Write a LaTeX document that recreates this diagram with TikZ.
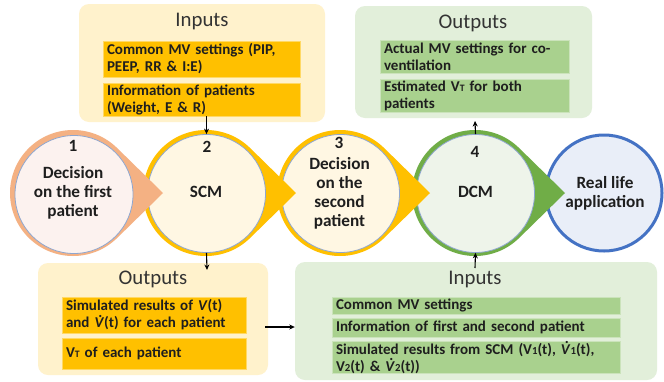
\documentclass[tikz,border=0pt]{standalone}
\usepackage{fontspec}
\setmainfont{Carlito}
\usetikzlibrary{arrows.meta,calc}
\definecolor{gold}{HTML}{FFC000}
\definecolor{cream}{HTML}{FFF2CC}
\definecolor{creamin}{HTML}{FFF7E3}
\definecolor{peach}{HTML}{F4B183}
\definecolor{pinkin}{HTML}{FCF2EF}
\definecolor{grn}{HTML}{70AD47}
\definecolor{grnlight}{HTML}{E2EFDA}
\definecolor{grnbox}{HTML}{A9D18E}
\definecolor{grnin}{HTML}{EEF4EA}
\definecolor{blu}{HTML}{4472C4}
\definecolor{bluin}{HTML}{E9EEF8}
\definecolor{rimcol}{HTML}{8EA6CF}
\definecolor{txt}{HTML}{1E1E1E}
\definecolor{ttl}{HTML}{333333}
\newcommand\subT{{\fontsize{9.8}{9.8}\selectfont T}}
\newcommand\subn[1]{\raisebox{-0.4pt}{\fontsize{10.8}{10.8}\selectfont #1}}
\newcommand\Vdot{\textit{V}\llap{\raisebox{0.68em}{.}\hspace{0.12em}}}
\newcommand\teardrop[3]{%
  \fill[#3] (#1,#2) ++(45.6:63pt) arc[start angle=45.6,end angle=314.4,radius=63pt] -- (#1+90,#2) -- cycle;}
\begin{document}
\begin{tikzpicture}[x=1pt,y=-1pt,
  bigbox/.style={rectangle, rounded corners=10pt, inner sep=0pt},
  ibox/.style={rectangle, inner xsep=4pt, inner ysep=0pt, align=left, text=txt,
     font=\fontsize{15}{17}\selectfont\bfseries},
  ybox/.style={ibox, fill=gold, draw=gold!60!white, line width=0.6pt},
  gbox/.style={ibox, fill=grnbox, draw=grnbox!60!white, line width=0.6pt},
  title/.style={font=\fontsize{20.8}{24}\selectfont, text=ttl, inner sep=0pt},
  ctext/.style={align=center, text=txt, font=\fontsize{17.2}{19}\selectfont\bfseries, inner sep=0pt},
  inner/.style={circle, minimum size=118pt, inner sep=0pt, draw=rimcol, line width=0.8pt},
  arr/.style={-{Stealth[length=5.5pt,width=5pt]}, line width=1.1pt, black}]
\useasboundingbox (0,0) rectangle (664,381);
\fill[white] (0,0) rectangle (664,381);

% ---- circles (right to left so each point overlays the next circle)
\node[circle, minimum size=116pt, inner sep=0pt, draw=blu, line width=3pt, fill=bluin] (c5) at (604,193) {};
\teardrop{475}{193}{grn}
\node[inner, fill=grnin] (c4) at (475.5,193.5) {};
\teardrop{340}{193}{gold}
\node[inner, fill=creamin] (c3) at (340.5,193.5) {};
\teardrop{206}{193}{gold}
\node[inner, fill=creamin] (c2) at (206.5,193.5) {};
\teardrop{73}{193}{peach}
\node[inner, fill=pinkin] (c1) at (74,194.5) {};

\node[ctext] (n1) at (73,146) {1};
\node[ctext] (t1) at (73,193) {Decision\\on the first\\patient};
\node[ctext] (n2) at (207,147) {2};
\node[ctext] (t2) at (206,192) {SCM};
\node[ctext] (n3) at (339,143) {3};
\node[ctext] (t3) at (339.5,193) {Decision\\on the\\second\\patient};
\node[ctext] (n4) at (475,152) {4};
\node[ctext] (t4) at (475.5,192) {DCM};
\node[ctext] (t5) at (605,193.5) {Real life\\application};

% ---- top-left inputs
\node[bigbox, fill=cream, minimum width=246pt, minimum height=118pt] (tl) at (202,63) {};
\node[title] (tlt) at (202,22) {Inputs};
\node[ybox, text width=189pt, minimum height=36pt] (tl1) at (201.5,59) {Common MV settings (PIP,\\PEEP, RR \& I:E)};
\node[ybox, text width=189pt, minimum height=33pt] (tl2) at (201.5,99.5) {Information of patients\\(Weight, E \& R)};

% ---- top-right outputs
\node[bigbox, fill=grnlight, minimum width=237pt, minimum height=112pt] (tr) at (473.5,62) {};
\node[title] (trt) at (473,23) {Outputs};
\node[gbox, text width=181pt, minimum height=33pt] (tr1) at (474.5,56.5) {Actual MV settings for co-\\ventilation};
\node[gbox, text width=181pt, minimum height=33pt] (tr2) at (474.5,95.5) {Estimated V\subT{} for both\\patients};

% ---- bottom-left outputs
\node[bigbox, fill=cream, minimum width=230pt, minimum height=112pt] (bl) at (153,319) {};
\node[title] (blt) at (153,279) {Outputs};
\node[ybox, text width=176pt, minimum height=36pt] (bl1) at (154,315) {Simulated results of \textit{V}(t)\\and \Vdot(t) for each patient};
\node[ybox, text width=176pt, minimum height=31pt] (bl2) at (154,353.5) {V\subT{} of each patient};

% ---- bottom-right inputs
\node[bigbox, fill=grnlight, minimum width=362pt, minimum height=118pt] (br) at (476,321) {};
\node[title] (brt) at (475,279) {Inputs};
\node[gbox, text width=280pt, minimum height=17pt] (br1) at (476,305.5) {Common MV settings};
\node[gbox, text width=280pt, minimum height=19pt] (br2) at (476,327.5) {Information of first and second patient};
\node[gbox, text width=280pt, minimum height=31pt] (br3) at (476,357.5) {Simulated results from SCM (V\subn{1}(t), \Vdot\subn{1}(t),\\V\subn{2}(t) \& \Vdot\subn{2}(t))};

% ---- arrows
\coordinate (blin) at (207,270);
\coordinate (blout) at (265,327);
\coordinate (brout) at (475,268);
\coordinate (trin) at (475,121);
\draw[arr] (c2.north |- tl2.south) -- (c2.north);
\draw[arr] (c2.south) -- (blin);
\draw[arr] (blout) -- (br.west |- blout);
\draw[arr] (brout) -- (c4.south);
\draw[arr] (c4.north) -- (trin);
\end{tikzpicture}
\end{document}
